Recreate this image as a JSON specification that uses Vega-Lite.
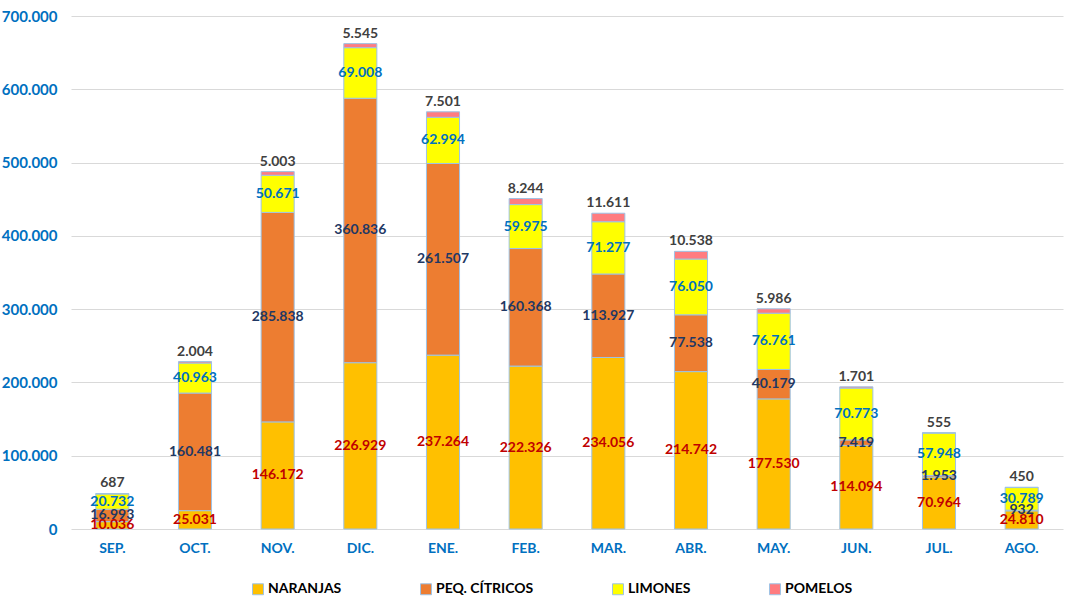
{
  "$schema": "https://vega.github.io/schema/vega-lite/v6.json",
  "autosize": "none",
  "width": 992,
  "height": 513,
  "padding": {"left": 71, "top": 16, "right": 14, "bottom": 77},
  "background": "white",
  "config": {
    "locale": {"number": {"decimal": ",", "thousands": ".", "grouping": [3], "currency": ["", " €"]}},
    "font": "Lato",
    "view": {"stroke": null}
  },
  "data": {"values": [
    {"mes": "SEP.", "tipo": "NARANJAS", "orden": 1, "valor": 10036},
    {"mes": "SEP.", "tipo": "PEQ. CÍTRICOS", "orden": 2, "valor": 16993},
    {"mes": "SEP.", "tipo": "LIMONES", "orden": 3, "valor": 20732},
    {"mes": "SEP.", "tipo": "POMELOS", "orden": 4, "valor": 687},
    {"mes": "OCT.", "tipo": "NARANJAS", "orden": 1, "valor": 25031},
    {"mes": "OCT.", "tipo": "PEQ. CÍTRICOS", "orden": 2, "valor": 160481},
    {"mes": "OCT.", "tipo": "LIMONES", "orden": 3, "valor": 40963},
    {"mes": "OCT.", "tipo": "POMELOS", "orden": 4, "valor": 2004},
    {"mes": "NOV.", "tipo": "NARANJAS", "orden": 1, "valor": 146172},
    {"mes": "NOV.", "tipo": "PEQ. CÍTRICOS", "orden": 2, "valor": 285838},
    {"mes": "NOV.", "tipo": "LIMONES", "orden": 3, "valor": 50671},
    {"mes": "NOV.", "tipo": "POMELOS", "orden": 4, "valor": 5003},
    {"mes": "DIC.", "tipo": "NARANJAS", "orden": 1, "valor": 226929},
    {"mes": "DIC.", "tipo": "PEQ. CÍTRICOS", "orden": 2, "valor": 360836},
    {"mes": "DIC.", "tipo": "LIMONES", "orden": 3, "valor": 69008},
    {"mes": "DIC.", "tipo": "POMELOS", "orden": 4, "valor": 5545},
    {"mes": "ENE.", "tipo": "NARANJAS", "orden": 1, "valor": 237264},
    {"mes": "ENE.", "tipo": "PEQ. CÍTRICOS", "orden": 2, "valor": 261507},
    {"mes": "ENE.", "tipo": "LIMONES", "orden": 3, "valor": 62994},
    {"mes": "ENE.", "tipo": "POMELOS", "orden": 4, "valor": 7501},
    {"mes": "FEB.", "tipo": "NARANJAS", "orden": 1, "valor": 222326},
    {"mes": "FEB.", "tipo": "PEQ. CÍTRICOS", "orden": 2, "valor": 160368},
    {"mes": "FEB.", "tipo": "LIMONES", "orden": 3, "valor": 59975},
    {"mes": "FEB.", "tipo": "POMELOS", "orden": 4, "valor": 8244},
    {"mes": "MAR.", "tipo": "NARANJAS", "orden": 1, "valor": 234056},
    {"mes": "MAR.", "tipo": "PEQ. CÍTRICOS", "orden": 2, "valor": 113927},
    {"mes": "MAR.", "tipo": "LIMONES", "orden": 3, "valor": 71277},
    {"mes": "MAR.", "tipo": "POMELOS", "orden": 4, "valor": 11611},
    {"mes": "ABR.", "tipo": "NARANJAS", "orden": 1, "valor": 214742},
    {"mes": "ABR.", "tipo": "PEQ. CÍTRICOS", "orden": 2, "valor": 77538},
    {"mes": "ABR.", "tipo": "LIMONES", "orden": 3, "valor": 76050},
    {"mes": "ABR.", "tipo": "POMELOS", "orden": 4, "valor": 10538},
    {"mes": "MAY.", "tipo": "NARANJAS", "orden": 1, "valor": 177530},
    {"mes": "MAY.", "tipo": "PEQ. CÍTRICOS", "orden": 2, "valor": 40179},
    {"mes": "MAY.", "tipo": "LIMONES", "orden": 3, "valor": 76761},
    {"mes": "MAY.", "tipo": "POMELOS", "orden": 4, "valor": 5986},
    {"mes": "JUN.", "tipo": "NARANJAS", "orden": 1, "valor": 114094},
    {"mes": "JUN.", "tipo": "PEQ. CÍTRICOS", "orden": 2, "valor": 7419},
    {"mes": "JUN.", "tipo": "LIMONES", "orden": 3, "valor": 70773},
    {"mes": "JUN.", "tipo": "POMELOS", "orden": 4, "valor": 1701},
    {"mes": "JUL.", "tipo": "NARANJAS", "orden": 1, "valor": 70964},
    {"mes": "JUL.", "tipo": "PEQ. CÍTRICOS", "orden": 2, "valor": 1953},
    {"mes": "JUL.", "tipo": "LIMONES", "orden": 3, "valor": 57948},
    {"mes": "JUL.", "tipo": "POMELOS", "orden": 4, "valor": 555},
    {"mes": "AGO.", "tipo": "NARANJAS", "orden": 1, "valor": 24810},
    {"mes": "AGO.", "tipo": "PEQ. CÍTRICOS", "orden": 2, "valor": 932},
    {"mes": "AGO.", "tipo": "LIMONES", "orden": 3, "valor": 30789},
    {"mes": "AGO.", "tipo": "POMELOS", "orden": 4, "valor": 450}
  ]},
  "encoding": {
    "x": {
      "field": "mes", "type": "nominal", "sort": null,
      "scale": {"paddingInner": 0.6, "paddingOuter": 0.3},
      "axis": {"title": null, "labelAngle": 0, "labelColor": "#0070c0", "labelFont": "Lato", "labelFontWeight": "bold", "labelFontSize": 14, "ticks": false, "domain": false, "labelPadding": 12}
    }
  },
  "layer": [
    {
      "mark": {"type": "bar", "stroke": "#9dc3e6", "strokeWidth": 1},
      "encoding": {
        "y": {
          "field": "valor", "type": "quantitative", "stack": "zero",
          "scale": {"domain": [0, 700000]},
          "axis": {"title": null, "format": ",d", "values": [0, 100000, 200000, 300000, 400000, 500000, 600000, 700000], "labelColor": "#0070c0", "labelFont": "Lato", "labelFontWeight": "bold", "labelFontSize": 15, "ticks": false, "domain": false, "labelPadding": 14, "gridColor": "#d9d9d9", "gridWidth": 1}
        },
        "order": {"field": "orden", "type": "quantitative"},
        "color": {
          "field": "tipo", "type": "nominal",
          "scale": {"domain": ["NARANJAS", "PEQ. CÍTRICOS", "LIMONES", "POMELOS"], "range": ["#ffc000", "#ed7d31", "#ffff00", "#ff7c80"]},
          "legend": {"title": null, "orient": "none", "legendX": 180, "legendY": 566, "direction": "horizontal", "symbolType": "square", "symbolSize": 120, "symbolStrokeColor": "#9dc3e6", "symbolStrokeWidth": 1, "labelFont": "Lato", "labelFontWeight": "bold", "labelFontSize": 14, "labelColor": "#000000", "columnPadding": 76, "labelOffset": 3}
        }
      }
    },
    {
      "mark": {"type": "text", "font": "Lato", "fontWeight": "bold", "fontSize": 14, "baseline": "middle"},
      "encoding": {
        "y": {"field": "valor", "type": "quantitative", "stack": "zero", "bandPosition": 0.5},
        "order": {"field": "orden", "type": "quantitative"},
        "text": {"condition": {"test": "datum.tipo === 'POMELOS'", "value": ""}, "field": "valor", "type": "quantitative", "format": ",d"},
        "color": {"condition": [
          {"test": "datum.tipo === 'NARANJAS'", "value": "#c00000"},
          {"test": "datum.tipo === 'PEQ. CÍTRICOS'", "value": "#1f3864"},
          {"test": "datum.tipo === 'LIMONES'", "value": "#0070c0"}
        ], "value": "#404040"}
      }
    },
    {
      "transform": [
        {"joinaggregate": [{"op": "sum", "field": "valor", "as": "total"}], "groupby": ["mes"]},
        {"filter": "datum.tipo === 'POMELOS'"}
      ],
      "mark": {"type": "text", "font": "Lato", "fontWeight": "bold", "fontSize": 14, "baseline": "bottom", "dy": -3, "color": "#404040"},
      "encoding": {
        "y": {"field": "total", "type": "quantitative"},
        "text": {"field": "valor", "type": "quantitative", "format": ",d"}
      }
    }
  ]
}
